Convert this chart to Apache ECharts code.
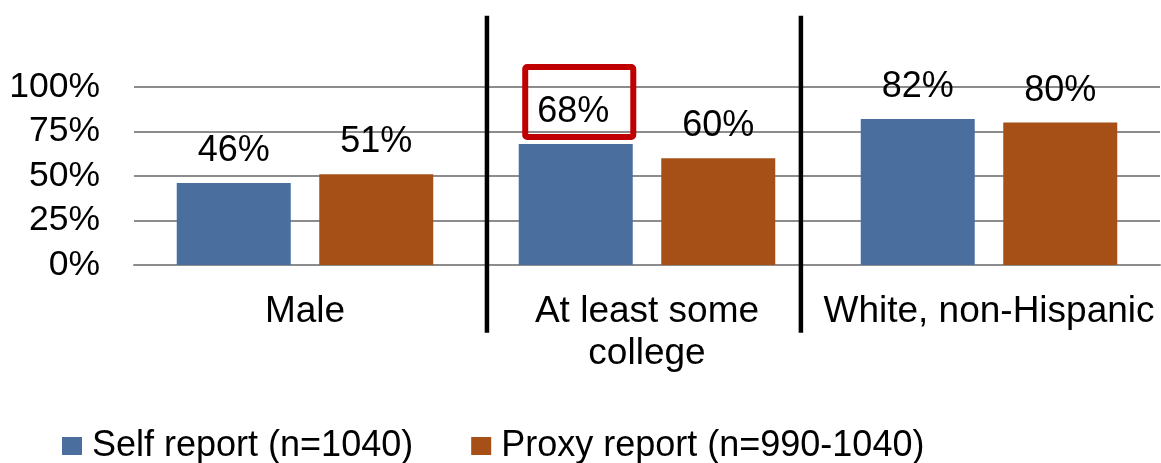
<!DOCTYPE html>
<html>
<head>
<meta charset="utf-8">
<script src="https://cdn.jsdelivr.net/npm/echarts@6/dist/echarts.min.js"></script>
<style>
  html, body { margin: 0; padding: 0; background: #ffffff; }
  #chart { width: 1161px; height: 463px; }
</style>
</head>
<body>
<div id="chart"></div>
<script>
// Group labels along the x axis
const categories = ['Male', 'At least some\ncollege', 'White, non-Hispanic'];
// Percent of respondents in each group
const selfReport = [46, 68, 82];
const proxyReport = [51, 60, 80];
const seriesNames = ['Self report (n=1040)', 'Proxy report (n=990-1040)'];
// Y axis ticks
const yTicks = [0, 25, 50, 75, 100];
// Vertical dividers between groups, in category-index units
const dividerPositions = [0.532, 1.45];
// Highlighted value (group index in the self-report series)
const highlightIndex = 1;

const FONT = 'Liberation Sans, Arial, sans-serif';
const FS = 36;

const chart = echarts.init(document.getElementById('chart'));

const selfData = selfReport.map((v, i) => {
  if (i !== highlightIndex) return v;
  return {
    value: v,
    label: {
      borderColor: '#C00000',
      borderWidth: 6,
      borderRadius: 2,
      padding: [27, 24, 7, 12],
      distance: 7,
      offset: [3.5, 0]
    }
  };
});

const valueLabel = {
  show: true,
  position: 'top',
  distance: 14,
  fontSize: FS,
  color: '#000',
  fontFamily: FONT,
  formatter: p => p.value + '%'
};

chart.setOption({
  animation: false,
  textStyle: { fontFamily: FONT },
  grid: { left: 134, right: 1, top: 87, bottom: 198, containLabel: false },
  legend: {
    data: seriesNames,
    left: 57,
    top: 423,
    itemWidth: 20,
    itemHeight: 18,
    itemGap: 58,
    icon: 'rect',
    textStyle: { fontSize: FS, color: '#000', fontFamily: FONT, padding: [0, 0, 0, 5] }
  },
  xAxis: [
    {
      type: 'category',
      data: categories,
      axisLine: { show: true, lineStyle: { color: '#8c8c8c', width: 2 } },
      axisTick: { show: false },
      axisLabel: { fontSize: 37, color: '#000', lineHeight: 42, margin: 26, interval: 0, fontFamily: FONT }
    },
    {
      type: 'value',
      min: -0.5,
      max: 2.5,
      show: false
    }
  ],
  yAxis: {
    type: 'value',
    min: yTicks[0],
    max: yTicks[yTicks.length - 1],
    interval: 25,
    axisLine: { show: false },
    axisTick: { show: false },
    splitLine: { lineStyle: { color: '#8c8c8c', width: 2 } },
    axisLabel: {
      fontSize: 35.5,
      color: '#000',
      margin: 34,
      fontFamily: FONT,
      formatter: v => v + '%'
    }
  },
  series: [
    {
      name: seriesNames[0],
      type: 'bar',
      data: selfData,
      barWidth: 114,
      barGap: '25%',
      itemStyle: { color: '#4a6f9f' },
      label: valueLabel
    },
    {
      name: seriesNames[1],
      type: 'bar',
      data: proxyReport,
      barWidth: 114,
      barGap: '25%',
      itemStyle: { color: '#a65017' },
      label: valueLabel
    },
    {
      // Black dividers separating the groups, running past the plot area
      type: 'custom',
      xAxisIndex: 1,
      clip: false,
      silent: true,
      z: 5,
      data: dividerPositions.map(x => [x]),
      renderItem: (params, api) => {
        const x = api.coord([api.value(0), 0])[0];
        const top = api.coord([api.value(0), 140])[1];
        const bottom = api.coord([api.value(0), -38])[1];
        return {
          type: 'line',
          shape: { x1: x, y1: top, x2: x, y2: bottom },
          style: { stroke: '#000', lineWidth: 4.5 }
        };
      }
    }
  ]
});
</script>
</body>
</html>
